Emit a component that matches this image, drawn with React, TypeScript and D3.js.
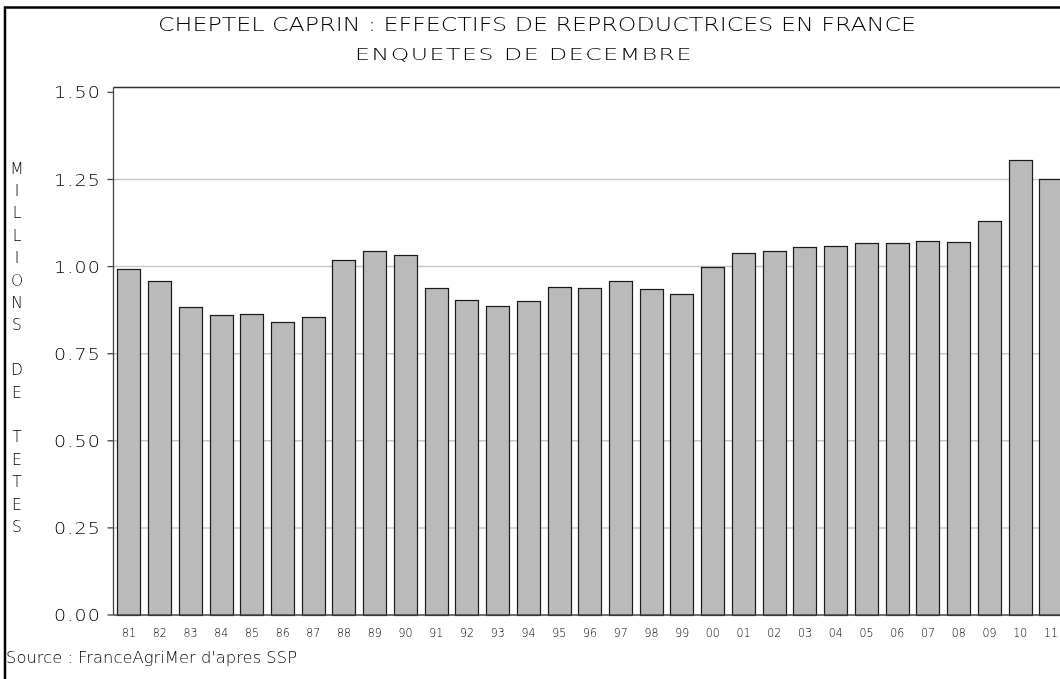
import React from "react";
import * as d3 from "d3";

const years = ["81","82","83","84","85","86","87","88","89","90","91","92","93","94","95","96","97","98","99","00","01","02","03","04","05","06","07","08","09","10","11"];
const effectifs = [0.994,0.958,0.884,0.862,0.865,0.841,0.856,1.018,1.046,1.034,0.938,0.904,0.888,0.900,0.942,0.939,0.960,0.937,0.921,0.998,1.038,1.046,1.055,1.059,1.068,1.068,1.073,1.071,1.131,1.307,1.251];
const yTicks = [0, 0.25, 0.5, 0.75, 1.0, 1.25, 1.5];
const gridValues = [0.25, 0.5, 0.75, 1.0, 1.25];
const yLabelLetters = "MILLIONS DE TETES".split("");

const title = "CHEPTEL CAPRIN : EFFECTIFS DE REPRODUCTRICES EN FRANCE";
const subtitle = "ENQUETES DE DECEMBRE";
const source = "Source : FranceAgriMer d'apres SSP";

export default function App() {
  const W = 1060, H = 679;
  const left = 113.5, right = 1066.4, bottom = 615, top = 87.5;
  const x = d3.scaleBand<string>().domain(years).range([left, right]).paddingInner(0.24).paddingOuter(0.124);
  const y = d3.scaleLinear().domain([0, 1.5]).range([bottom, bottom - 6 * 87.1]);
  const font = "'DejaVu Sans', sans-serif";
  const fmt = d3.format(".2f");
  const fw = 200;
  return (
    <svg width={W} height={H} style={{ position: "absolute", left: 0, top: 0, background: "#fff", willChange: "transform" }} fontFamily={font} fontWeight={fw}>
      <rect x={0} y={0} width={W} height={H} fill="#fff" />
      {/* outer frame */}
      <rect x={5} y={7.5} width={1100} height={800} fill="none" stroke="#000" strokeWidth={2.5} />
      <text x={537} y={31} textAnchor="middle" fontSize={19} fill="#000" textLength={758} lengthAdjust="spacingAndGlyphs">{title}</text>
      <text x={524} y={59.5} textAnchor="middle" fontSize={15.5} fill="#000" letterSpacing={1} textLength={338} lengthAdjust="spacingAndGlyphs">{subtitle}</text>
      {/* gridlines */}
      {gridValues.map((v) => (
        <line key={"g" + v} x1={left} x2={right} y1={y(v)} y2={y(v)} stroke="#c8c8c8" strokeWidth={1.5} />
      ))}
      {/* bars */}
      {years.map((yr, i) => (
        <rect key={yr} x={Math.round(x(yr)!) + 0.5} y={Math.round(y(effectifs[i])) + 0.5} width={Math.round(x.bandwidth())} height={bottom - Math.round(y(effectifs[i]))} fill="#bababa" stroke="#1a1a1a" strokeWidth={1.2} />
      ))}
      {/* axes */}
      <line x1={left} x2={right} y1={top} y2={top} stroke="#333" strokeWidth={1.3} />
      <line x1={left} x2={right} y1={bottom} y2={bottom} stroke="#444" strokeWidth={1.3} />
      <line x1={left} x2={left} y1={top} y2={bottom} stroke="#444" strokeWidth={1.3} />
      <line x1={right} x2={right} y1={top} y2={bottom} stroke="#444" strokeWidth={1.3} />
      {yTicks.map((v) => (
        <g key={"t" + v}>
          <line x1={left - 6} x2={left} y1={y(v)} y2={y(v)} stroke="#444" strokeWidth={1.3} />
          <text x={101} y={y(v) + 6} textAnchor="end" fontSize={16.5} fill="#000" letterSpacing={1} textLength={47} lengthAdjust="spacingAndGlyphs">{fmt(v)}</text>
        </g>
      ))}
      {years.map((yr) => (
        <text key={"l" + yr} x={x(yr)! + x.bandwidth() / 2} y={637} textAnchor="middle" fontSize={12} fill="#000" textLength={14} lengthAdjust="spacingAndGlyphs">{yr}</text>
      ))}
      {yLabelLetters.map((c, i) => (
        <text key={"yl" + i} x={17} y={168 + 22.4 * i + 5.5} textAnchor="middle" fontSize={15.5} fill="#000">{c}</text>
      ))}
      <text x={6} y={663} fontSize={16.5} fill="#000" textLength={291} lengthAdjust="spacingAndGlyphs">{source}</text>
    </svg>
  );
}
